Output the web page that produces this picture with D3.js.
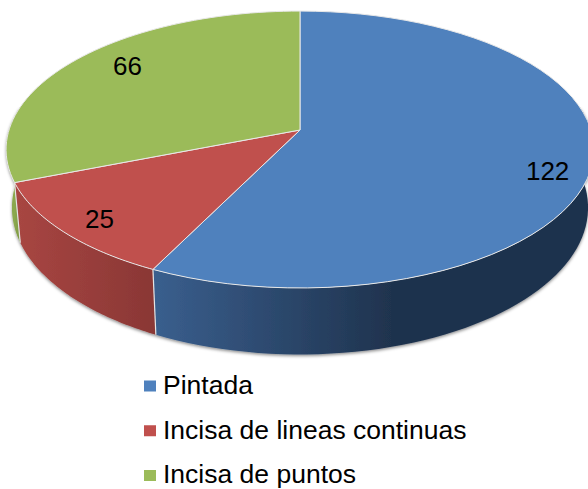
<!DOCTYPE html>
<html lang="es">
<head>
  <meta charset="UTF-8">
  <title>Decoracion</title>
  <script src="https://d3js.org/d3.v7.min.js"></script>
  <style>
    html, body { margin: 0; padding: 0; background: #fff; overflow: hidden; }
    text { font-family: "Liberation Sans", Arial, sans-serif; fill: #000; }
  </style>
</head>
<body>
  <div id="root"></div>
  <script>
    const categories = ['Pintada', 'Incisa de lineas continuas', 'Incisa de puntos']
    const values = [122, 25, 66]

    const topColors = ['#4f81bd', '#c0504d', '#9bbb59']
    const sideStops = [
      [[0, '#3a5f8e'], [0.55, '#1f334e'], [1, '#1f334e']],
      [[0, '#a84642'], [1, '#8a3735']],
      [[0, '#8aa84e'], [1, '#7c9640']]
    ]

    const width = 588
    const height = 489
    const center = { x: 300, y: 130 }
    // tilted disc: a, b are the axes, k the perspective strength
    const disc = { a: 291, b: 135.7, k: 0.141 }
    const base = { scaleX: 0.98, scaleY: 1.06, y: 187 }

    // radial position and nudge of each data label
    const labelLayout = [
      { r: 0.85, dy: 14 },
      { r: 0.86, dy: 3 },
      { r: 0.76, dy: -9 }
    ]

    const project = (angle, r = 1) => {
      const X = r * Math.sin(angle)
      const Y = -r * Math.cos(angle)
      const d = 1 - disc.k * Y
      return [center.x + disc.a * X / d, center.y + disc.b * Y / d]
    }
    const projectBase = angle => {
      const [x, y] = project(angle)
      return [center.x + base.scaleX * (x - center.x), base.y + base.scaleY * (y - center.y)]
    }

    const pie = d3.pie().sort(null).value(d => d)
    const arcs = pie(values)

    const line = d3.line()
    const angleSteps = (a0, a1) => d3.range(0, 61).map(i => d3.interpolateNumber(a0, a1)(i / 60))

    const svg = d3.select('#root')
      .append('svg')
        .attr('width', width)
        .attr('height', height)

    const defs = svg.append('defs')

    defs.append('filter')
        .attr('id', 'shadow')
        .attr('x', '-10%').attr('y', '-10%')
        .attr('width', '120%').attr('height', '120%')
      .append('feDropShadow')
        .attr('dx', 0)
        .attr('dy', 1.5)
        .attr('stdDeviation', 1.5)
        .attr('flood-color', '#000')
        .attr('flood-opacity', 0.45)

    const sideStart = Math.PI * 80 / 180
    const sideEnd = Math.PI * 280 / 180
    const sideRanges = arcs.map(d => [Math.max(d.startAngle, sideStart), Math.min(d.endAngle, sideEnd)])

    sideRanges.forEach(([a0, a1], i) => {
      const xs = d3.extent([project(a0)[0], project(a1)[0]])
      // the first slice turns round the right edge, so run its gradient left to right
      const grad = defs.append('linearGradient')
        .attr('id', `side${i}`)
        .attr('gradientUnits', 'userSpaceOnUse')
        .attr('x1', i === 0 ? project(a1)[0] : xs[0])
        .attr('x2', i === 0 ? width : xs[1])
        .attr('y1', 0)
        .attr('y2', 0)
      grad.selectAll('stop')
        .data(sideStops[i])
        .join('stop')
        .attr('offset', d => d[0])
        .attr('stop-color', d => d[1])
    })

    const sides = svg.append('g').attr('filter', 'url(#shadow)')

    sides.selectAll('path')
      .data(sideRanges)
      .join('path')
      .attr('d', ([a0, a1]) => {
        const upper = angleSteps(a0, a1).map(a => project(a))
        const lower = angleSteps(a1, a0).map(a => projectBase(a))
        return line(upper.concat(lower)) + 'Z'
      })
      .attr('fill', (d, i) => `url(#side${i})`)

    // light edges where the side walls meet
    svg.append('g')
      .selectAll('line')
      .data(arcs.slice(0, 2))
      .join('line')
      .attr('x1', d => project(d.endAngle)[0])
      .attr('y1', d => project(d.endAngle)[1])
      .attr('x2', d => projectBase(d.endAngle)[0])
      .attr('y2', d => projectBase(d.endAngle)[1])
      .attr('stroke', '#e4e4e4')
      .attr('stroke-width', 1.2)

    svg.append('g')
      .selectAll('path')
      .data(arcs)
      .join('path')
      .attr('d', d => {
        const rim = angleSteps(d.startAngle, d.endAngle).map(a => project(a))
        return line([[center.x, center.y]].concat(rim)) + 'Z'
      })
      .attr('fill', (d, i) => topColors[i])
      .attr('stroke', '#e8e8e8')
      .attr('stroke-width', 1)
      .attr('stroke-linejoin', 'round')

    svg.append('g')
      .selectAll('text')
      .data(arcs)
      .join('text')
      .attr('x', (d, i) => project((d.startAngle + d.endAngle) / 2, labelLayout[i].r)[0])
      .attr('y', (d, i) => project((d.startAngle + d.endAngle) / 2, labelLayout[i].r)[1] + labelLayout[i].dy)
      .attr('text-anchor', 'middle')
      .attr('dominant-baseline', 'central')
      .style('font-size', '26px')
      .text(d => d.data)

    // last row pulled up a little so the descenders stay inside the window
    const legendY = d3.scalePoint()
      .domain(categories)
      .range([386, 475.5])

    const legend = svg.append('g')
      .selectAll('g')
      .data(categories)
      .join('g')
      .attr('transform', d => `translate(144, ${legendY(d)})`)

    legend.append('rect')
      .attr('x', 0)
      .attr('y', -5.5)
      .attr('width', 12)
      .attr('height', 11)
      .attr('fill', (d, i) => topColors[i])

    legend.append('text')
      .attr('x', 19)
      .attr('y', 7.8)
      .style('font-size', '26.5px')
      .text(d => d)
  </script>
</body>
</html>
